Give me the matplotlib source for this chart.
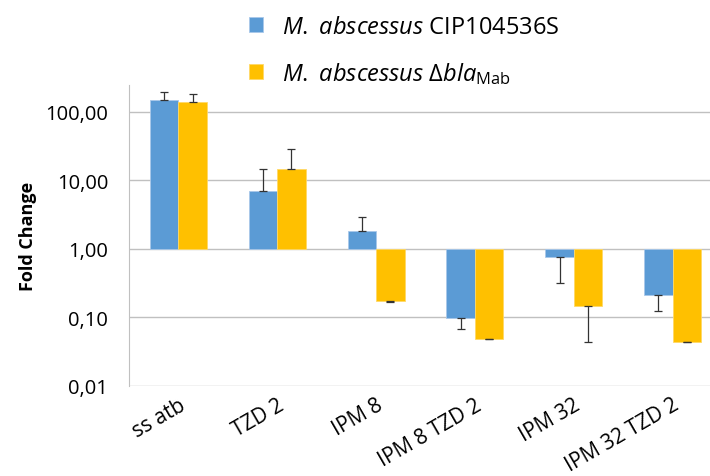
import numpy as np
import matplotlib
matplotlib.use("Agg")
import matplotlib.pyplot as plt

plt.rcParams['font.family'] = ['Open Sans', 'DejaVu Sans']
plt.rcParams['mathtext.fontset'] = 'custom'
plt.rcParams['mathtext.rm'] = 'Open Sans'
plt.rcParams['mathtext.it'] = 'Open Sans:italic'

categories = ["ss atb", "TZD 2", "IPM 8", "IPM 8 TZD 2", "IPM 32", "IPM 32 TZD 2"]
wt_values = [150, 6.95, 1.79, 0.098, 0.755, 0.213]
wt_err = [45, 7.6, 1.15, 0.030, 0.436, 0.089]
bla_values = [138, 14.7, 0.170, 0.0485, 0.144, 0.0440]
bla_err = [44, 13.8, 0.002, 0.001, 0.100, 0.001]
labels = [r"$\it{M.\ abscessus}$ CIP104536S",
          r"$\it{M.\ abscessus}$ Δ$\it{bla}$$_{\rm Mab}$"]

blue = "#5B9BD5"
orange = "#FFC000"

fig = plt.figure(figsize=(7.1, 4.77), dpi=100)
ax = fig.add_axes([129 / 710, (477 - 386.7) / 477, (722 - 129) / 710, (386.7 - 86) / 477])

x = np.arange(len(categories))
w = 0.288


def errs(vals, e):
    # one-sided error bars, pointing away from the baseline at 1
    lo = [ei if v < 1 else 0 for v, ei in zip(vals, e)]
    hi = [ei if v >= 1 else 0 for v, ei in zip(vals, e)]
    return [lo, hi]


b1 = ax.bar(x - w / 2, np.array(wt_values) - 1, bottom=1, width=w, color=blue,
            edgecolor="#A9C8EA", linewidth=0.6, zorder=2)
b2 = ax.bar(x + w / 2, np.array(bla_values) - 1, bottom=1, width=w, color=orange,
            edgecolor="#FFD966", linewidth=0.6, zorder=2)
ax.errorbar(x - w / 2, wt_values, yerr=errs(wt_values, wt_err), fmt="none",
            ecolor="#333333", elinewidth=0.9, capsize=3, capthick=0.9, zorder=3)
ax.errorbar(x + w / 2, bla_values, yerr=errs(bla_values, bla_err), fmt="none",
            ecolor="#333333", elinewidth=0.9, capsize=3, capthick=0.9, zorder=3)

ax.set_yscale("log")
ax.set_ylim(0.01, 10 ** 2.39)
ax.set_xlim(-0.5, len(categories) - 0.5)
yt = [0.01, 0.1, 1, 10, 100]
ax.set_yticks(yt)
ax.set_yticklabels([f"{v:.2f}".replace(".", ",") for v in yt], fontsize=14.5)
ax.minorticks_off()
ax.yaxis.grid(True, color="#C0C0C0", linewidth=1.0, zorder=0)
ax.set_axisbelow(True)
ax.tick_params(axis="y", length=0, pad=15)
ax.tick_params(axis="x", length=0, pad=6)
ax.set_xticks(x)
ax.set_xticklabels(categories, rotation=30, ha="right", rotation_mode="anchor", fontsize=15)
for s in ["top", "right", "bottom"]:
    ax.spines[s].set_visible(False)
ax.spines["left"].set_color("#C0C0C0")
ax.set_ylabel("Fold Change", fontsize=13, fontweight="bold", labelpad=6)

fig.legend([b1, b2], labels, loc="upper left", bbox_to_anchor=(228 / 710, 1.012),
           frameon=False, fontsize=17, labelspacing=0.9, handlelength=0.6,
           handleheight=0.6, handletextpad=0.8)

fig.savefig("out.png", dpi=100)
